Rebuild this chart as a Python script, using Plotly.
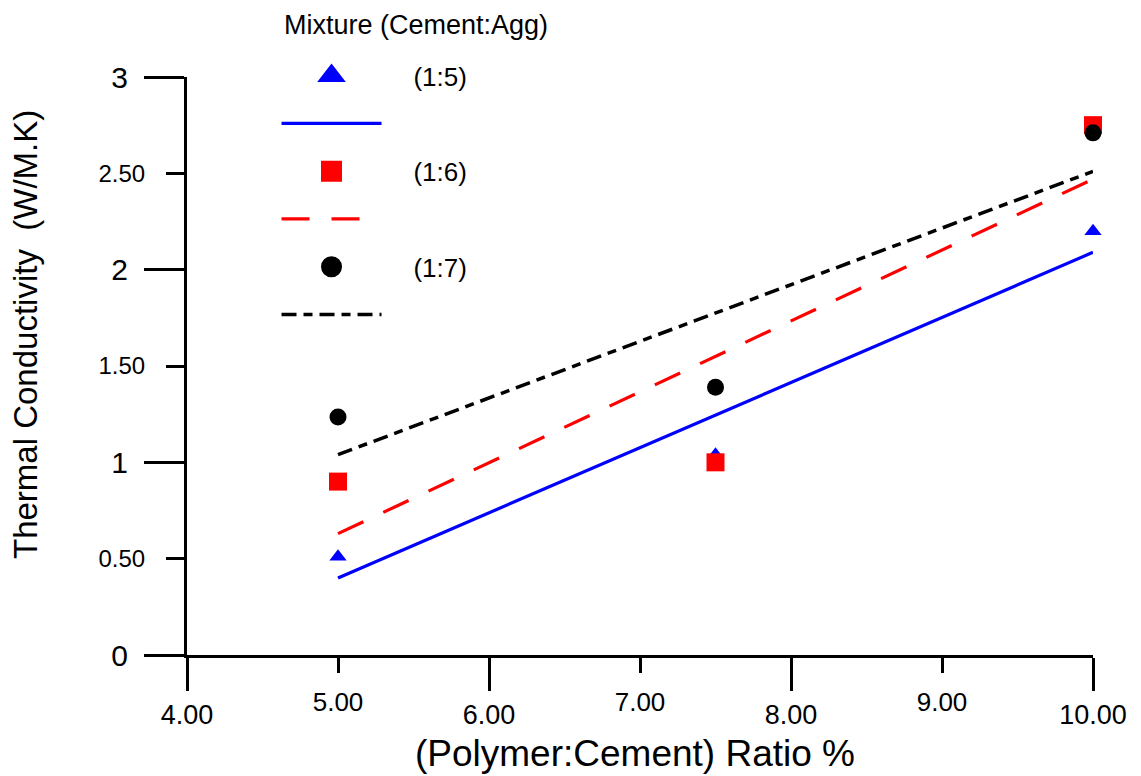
import plotly.graph_objects as go

# ---- data ----
ratio = [5.0, 7.5, 10.0]
k_15 = [0.51, 1.04, 2.20]
k_16 = [0.90, 1.00, 2.75]
k_17 = [1.235, 1.39, 2.71]

fit_x = [5.0, 10.0]
fit_15 = [0.40, 2.09]
fit_16 = [0.63, 2.47]
fit_17 = [1.04, 2.51]

labels = ["(1:5)", "(1:6)", "(1:7)"]
legend_title = "Mixture (Cement:Agg)"

x_major = [4, 6, 8, 10]
x_major_text = ["4.00", "6.00", "8.00", "10.00"]
x_minor = [5, 7, 9]
x_minor_text = ["5.00", "7.00", "9.00"]
y_major = [0, 1, 2, 3]
y_major_text = ["0", "1", "2", "3"]
y_minor = [0.5, 1.5, 2.5]
y_minor_text = ["0.50", "1.50", "2.50"]

x_title = "(Polymer:Cement) Ratio %"
y_title = "Thermal Conductivity \u00a0(W/M.K)"

FONT = "Liberation Sans, Arial, sans-serif"
BLUE = "#0000ff"
RED = "#ff0000"
BLACK = "#000000"
DASH_RED = "28px,22px"
DASH_BLK = "15px,7px,9px,7px"
PAD = "\u00a0\u00a0\u00a0\u2009"

fig = go.Figure()

# fitted lines
fig.add_trace(go.Scatter(x=fit_x, y=fit_15, mode="lines", showlegend=False,
                         line=dict(color=BLUE, width=3.2), cliponaxis=False))
fig.add_trace(go.Scatter(x=fit_x, y=fit_16, mode="lines", showlegend=False,
                         line=dict(color=RED, width=3.2, dash=DASH_RED), cliponaxis=False))
fig.add_trace(go.Scatter(x=fit_x, y=fit_17, mode="lines", showlegend=False,
                         line=dict(color=BLACK, width=3.5, dash=DASH_BLK), cliponaxis=False))

# data markers
fig.add_trace(go.Scatter(x=ratio, y=k_15, mode="markers", showlegend=False, cliponaxis=False,
                         marker=dict(symbol="triangle-up", size=15, color=BLUE)))
fig.add_trace(go.Scatter(x=ratio, y=k_16, mode="markers", showlegend=False, cliponaxis=False,
                         marker=dict(symbol="square", size=18, color=RED)))
fig.add_trace(go.Scatter(x=ratio, y=k_17, mode="markers", showlegend=False, cliponaxis=False,
                         xaxis="x2", yaxis="y2",
                         marker=dict(symbol="circle", size=17, color=BLACK)))

# legend entries
legend_items = [
    dict(name=PAD + labels[0], mode="markers",
         marker=dict(symbol="triangle-up", size=16, color=BLUE, line=dict(color=BLUE, width=5))),
    dict(name="", mode="lines", line=dict(color=BLUE, width=3.2)),
    dict(name=PAD + labels[1], mode="markers",
         marker=dict(symbol="square", size=16, color=RED, line=dict(color=RED, width=5))),
    dict(name="", mode="lines", line=dict(color=RED, width=3.2, dash=DASH_RED)),
    dict(name=PAD + labels[2], mode="markers",
         marker=dict(symbol="circle", size=16, color=BLACK, line=dict(color=BLACK, width=5))),
    dict(name="", mode="lines", line=dict(color=BLACK, width=3.5, dash=DASH_BLK)),
]
for i, it in enumerate(legend_items):
    fig.add_trace(go.Scatter(x=[None], y=[None], legendgroup=f"g{i}", showlegend=True,
                             hoverinfo="skip", **it))

axis_common = dict(showgrid=False, zeroline=False, ticks="outside", tickwidth=3,
                   tickcolor=BLACK, tickmode="array", automargin=False)

# the page adds an 8px body margin, so the figure is 8px smaller than the window
fig.update_layout(
    width=1133, height=768,
    margin=dict(l=179, r=48, t=69, b=121, autoexpand=False),
    paper_bgcolor="white", plot_bgcolor="white",
    font=dict(family=FONT, color=BLACK),
    xaxis=dict(range=[4, 10], tickvals=x_major, ticktext=x_major_text, ticklen=33,
               showline=True, linewidth=3, linecolor=BLACK, anchor="y",
               ticklabelstandoff=1,
               tickfont=dict(size=27, family=FONT), **axis_common),
    xaxis2=dict(range=[4, 10], overlaying="x", anchor="y", side="bottom",
                tickvals=x_minor, ticktext=x_minor_text, ticklen=17, showline=False,
                ticklabelstandoff=7,
                tickfont=dict(size=26, family=FONT), **axis_common),
    yaxis=dict(range=[0, 3], tickvals=y_major, ticktext=y_major_text, ticklen=40,
               showline=True, linewidth=3, linecolor=BLACK, anchor="x",
               ticklabelstandoff=10,
               tickfont=dict(size=30, family=FONT), **axis_common),
    yaxis2=dict(range=[0, 3], overlaying="y", anchor="x", side="left",
                tickvals=y_minor, ticktext=y_minor_text, ticklen=20, showline=False,
                ticklabelstandoff=16,
                tickfont=dict(size=24, family=FONT), **axis_common),
    legend=dict(x=0.0988, y=1.043, xanchor="left", yanchor="top",
                bgcolor="rgba(0,0,0,0)", borderwidth=0,
                traceorder="grouped", tracegroupgap=11, itemwidth=100,
                itemsizing="trace",
                font=dict(size=26, family=FONT)),
    annotations=[
        dict(text=legend_title, xref="paper", yref="paper",
             x=(282 - 187) / 906, y=1 + (77 - 25) / 578,
             xanchor="left", yanchor="middle", showarrow=False,
             font=dict(size=27, family=FONT)),
        dict(text=x_title, xref="paper", yref="paper", x=0.4945, y=(655 - 753) / 578,
             xanchor="center", yanchor="middle", showarrow=False,
             font=dict(size=37, family=FONT)),
        dict(text=y_title, xref="paper", yref="paper", x=-0.1788, y=0.5536,
             xanchor="center", yanchor="middle", showarrow=False, textangle=-90,
             font=dict(size=33, family=FONT)),
    ],
)

fig.write_html("out.html")
